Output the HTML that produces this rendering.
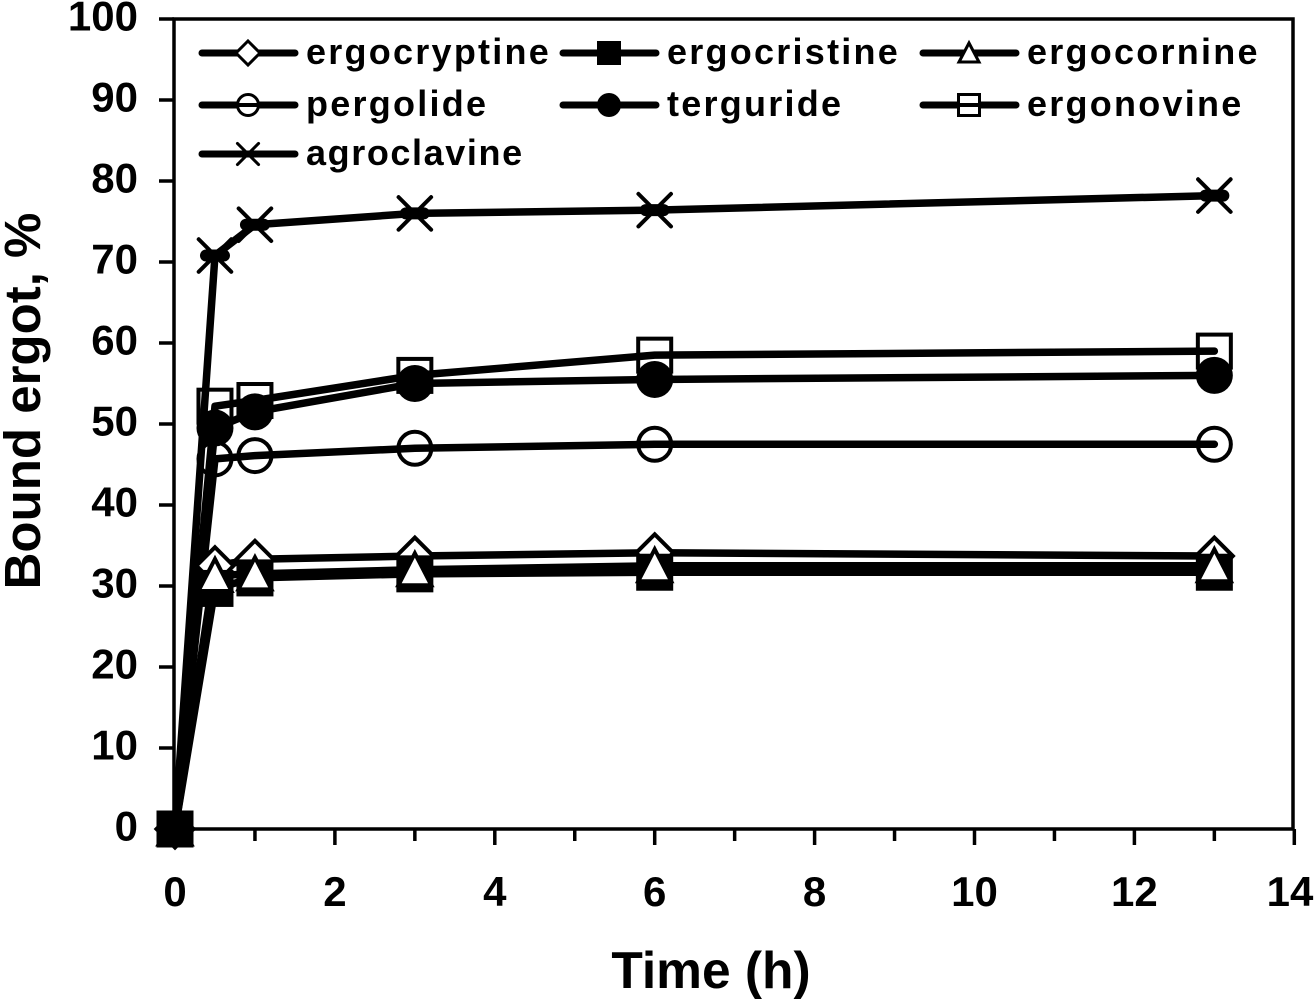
<!DOCTYPE html>
<html>
<head>
<meta charset="utf-8">
<title>Bound ergot over time</title>
<style>
html,body{margin:0;padding:0;background:#fff;}
svg{display:block;}
text{font-family:"Liberation Sans",Arial,sans-serif;font-weight:bold;fill:#000;}
</style>
</head>
<body>
<svg id="chart" xmlns="http://www.w3.org/2000/svg" width="1316" height="1000" viewBox="0 0 1316 1000"></svg>
<script>
const times = [0, 0.5, 1, 3, 6, 13];
const xTickLabels = [0, 2, 4, 6, 8, 10, 12, 14];
const xMinorTicks = [1, 3, 5, 7, 9, 11, 13];
const yTickLabels = [0, 10, 20, 30, 40, 50, 60, 70, 80, 90, 100];
const ergocryptine = [0, 32.5, 33.3, 33.7, 34.1, 33.7];
const ergocristine = [0, 29.7, 31, 31.5, 31.7, 31.7];
const ergocornine = [0, 31.3, 31.5, 32, 32.5, 32.5];
const pergolide = [0, 45.7, 46.1, 47, 47.5, 47.5];
const terguride = [0, 49.5, 51.5, 55, 55.5, 56];
const ergonovine = [0, 52.2, 52.9, 56, 58.5, 59];
const agroclavine = [0, 70.8, 74.6, 76, 76.4, 78.2];

const seriesNames = ['pergolide','ergonovine','agroclavine','terguride','ergocryptine','ergocristine','ergocornine'];
const seriesValues = [pergolide, ergonovine, agroclavine, terguride, ergocryptine, ergocristine, ergocornine];
const seriesMarkers = ['open-circle','open-square','cross','dot','diamond','square','triangle'];
const legendOrder = ['ergocryptine','ergocristine','ergocornine','pergolide','terguride','ergonovine','agroclavine'];

const NS = 'http://www.w3.org/2000/svg';
const svg = document.getElementById('chart');
const LEFT = 174, RIGHT = 1293, TOP = 19, BOTTOM = 829;
const Y_MAX = 100;
function xScale(v){ return 175 + v * 79.95; }
function yScale(v){ return BOTTOM - (v / Y_MAX) * (BOTTOM - TOP); }

function make(tag, attrs, parent){
  const el = document.createElementNS(NS, tag);
  for (const k in attrs) el.setAttribute(k, attrs[k]);
  (parent || svg).appendChild(el);
  return el;
}

function drawMarker(parent, kind, cx, cy, size){
  const r = size / 2;
  const sw = size > 25 ? 4 : 3;
  let el;
  if (kind === 'square') {
    el = make('rect', {x:cx-r, y:cy-r, width:size, height:size, fill:'#000'}, parent);
  } else if (kind === 'open-square') {
    el = make('rect', {x:cx-r+sw/2, y:cy-r+sw/2, width:size-sw, height:size-sw, fill:'#fff', stroke:'#000', 'stroke-width':sw}, parent);
  } else if (kind === 'dot') {
    el = make('circle', {cx:cx, cy:cy, r:r, fill:'#000'}, parent);
  } else if (kind === 'open-circle') {
    el = make('circle', {cx:cx, cy:cy, r:r-sw/2, fill:'#fff', stroke:'#000', 'stroke-width':sw}, parent);
  } else if (kind === 'diamond') {
    el = make('polygon', {points:[cx,cy-r, cx+r,cy, cx,cy+r, cx-r,cy].join(' '), fill:'#fff', stroke:'#000', 'stroke-width':sw, 'stroke-linejoin':'miter'}, parent);
  } else if (kind === 'triangle') {
    el = make('polygon', {points:[cx,cy-r+2, cx+r-2,cy+r-3, cx-r+2,cy+r-3].join(' '), fill:'#fff', stroke:'#000', 'stroke-width':sw, 'stroke-linejoin':'miter'}, parent);
  } else if (kind === 'cross') {
    const c = r * 0.88;
    el = make('path', {d:'M'+(cx-c)+' '+(cy-c)+'L'+(cx+c)+' '+(cy+c)+'M'+(cx+c)+' '+(cy-c)+'L'+(cx-c)+' '+(cy+c), fill:'none', stroke:'#000', 'stroke-width':sw, 'stroke-linecap':'round'}, parent);
  }
  
  
  return el;
}

const plotFrame = make('rect', {x:LEFT, y:TOP, width:RIGHT-LEFT, height:BOTTOM-TOP, fill:'#fff', stroke:'#000', 'stroke-width':3.5});



yTickLabels.forEach(function(v){
  const y = yScale(v);
  const tick = make('line', {x1:159, x2:LEFT, y1:y, y2:y, stroke:'#000', 'stroke-width':3.5});
  
  
  const label = make('text', {x:138, y:y+11.5, 'text-anchor':'end', 'font-size':42});
  label.textContent = v;
  
  
});

xTickLabels.forEach(function(v){
  const x = xScale(v);
  const tick = make('line', {x1:x, x2:x, y1:BOTTOM, y2:845, stroke:'#000', 'stroke-width':3.5});
  
  
  const label = make('text', {x:Math.min(x, 1290), y:906, 'text-anchor':'middle', 'font-size':42});
  label.textContent = v;
  
  
});

xMinorTicks.forEach(function(v){
  const x = xScale(v);
  const tick = make('line', {x1:x, x2:x, y1:BOTTOM, y2:841, stroke:'#000', 'stroke-width':3.5});
  
  
});

const xTitle = make('text', {x:711, y:988, 'text-anchor':'middle', 'font-size':51.5});
xTitle.textContent = 'Time (h)';



const yTitle = make('text', {x:0, y:0, 'text-anchor':'middle', 'font-size':51, transform:'translate(40 401) rotate(-90)'});
yTitle.textContent = 'Bound ergot, %';



seriesNames.forEach(function(name, i){
  const values = seriesValues[i];
  const kind = seriesMarkers[i];
  const g = make('g', {});
  
  
  const pts = times.map(function(t, j){ return xScale(t) + ',' + yScale(values[j]); }).join(' ');
  const lineAttrs = {points:pts, fill:'none', stroke:'#000', 'stroke-width':7.5, 'stroke-linecap':'round', 'stroke-linejoin':'round'};
  const lineOnTop = kind === 'open-circle' || kind === 'open-square' || kind === 'cross';
  if (!lineOnTop) {
    const line = make('polyline', lineAttrs, g);
    
    
  }
  times.forEach(function(t, j){
    drawMarker(g, kind, xScale(t), yScale(values[j]), 37);
  });
  if (lineOnTop) {
    const line = make('polyline', lineAttrs, g);
    
    
  }
  if (kind === 'cross') {
    times.slice(1).forEach(function(t, j){
      const y = yScale(values[j + 1]);
      const blob = make('line', {x1:xScale(t)-9, x2:xScale(t)+9, y1:y, y2:y, stroke:'#000', 'stroke-width':12, 'stroke-linecap':'round'}, g);
      
      
    });
  }
});

/* the ergocristine origin marker sits on top of everything at t = 0 */
drawMarker(svg, 'square', xScale(times[0]), yScale(ergocristine[0]), 37);

const legendColumns = [199, 560, 920];
const legendRows = [53, 105, 154];
legendOrder.forEach(function(name, i){
  const col = legendColumns[i % 3];
  const row = legendRows[Math.floor(i / 3)];
  const kind = seriesMarkers[seriesNames.indexOf(name)];
  const g = make('g', {});
  
  
  const line = make('line', {x1:col+3, x2:col+96, y1:row, y2:row, stroke:'#000', 'stroke-width':7, 'stroke-linecap':'round'}, g);
  
  
  const lineOnTop = kind === 'open-circle' || kind === 'open-square' || kind === 'cross';
  drawMarker(g, kind, col+49, row, 24);
  if (lineOnTop) {
    const over = make('line', {x1:col+3, x2:col+96, y1:row, y2:row, stroke:'#000', 'stroke-width':kind === 'cross' ? 7 : 4}, g);
    
    
  }
  const label = make('text', {x:col+107, y:row+11, 'font-size':36, 'letter-spacing':name === 'agroclavine' ? 1.6 : 2.25}, g);
  label.textContent = name;
  
  
});
</script>
</body>
</html>
